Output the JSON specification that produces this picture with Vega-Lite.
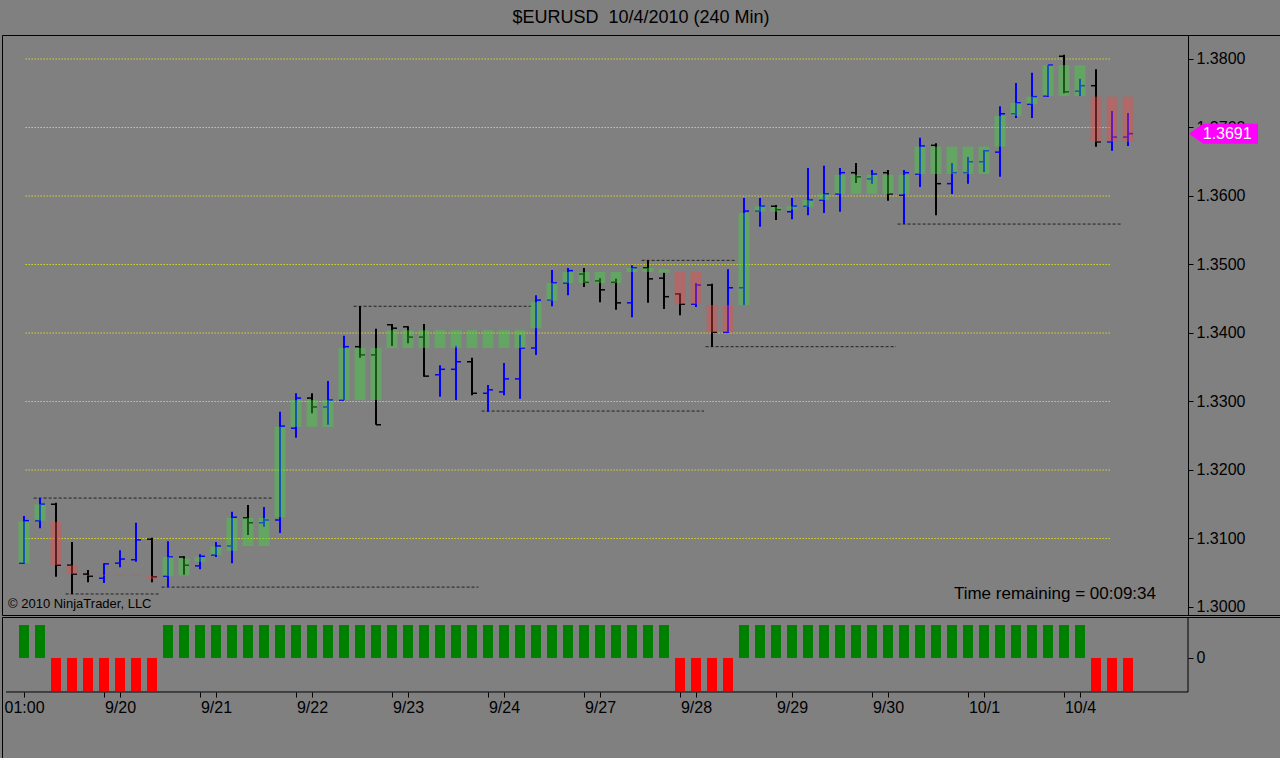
{
  "$schema": "https://vega.github.io/schema/vega-lite/v6.json",
  "background": "#808080",
  "padding": {"left": 1, "top": 8, "right": 1, "bottom": 0},
  "title": {
    "text": "$EURUSD\u00a0 10/4/2010 (240 Min)",
    "fontSize": 18,
    "fontWeight": "normal",
    "font": "Liberation Sans",
    "color": "black",
    "anchor": "middle",
    "offset": 8
  },
  "spacing": 0,
  "datasets": {
    "bars": [
      {"i": 0, "o": 1.3064, "h": 1.3133, "l": 1.3063, "c": 1.3126, "bt": 1.3125, "bb": 1.3064, "t": 1},
      {"i": 1, "o": 1.3126, "h": 1.3159, "l": 1.3115, "c": 1.3150, "bt": 1.3150, "bb": 1.3126, "t": 1},
      {"i": 2, "o": 1.3150, "h": 1.3152, "l": 1.3044, "c": 1.3061, "bt": 1.3124, "bb": 1.3061, "t": -1},
      {"i": 3, "o": 1.3061, "h": 1.3095, "l": 1.3019, "c": 1.3048, "bt": 1.3061, "bb": 1.3048, "t": -1},
      {"i": 4, "o": 1.3048, "h": 1.3054, "l": 1.3036, "c": 1.3045, "bt": 1.3047, "bb": 1.30455, "t": -1},
      {"i": 5, "o": 1.3042, "h": 1.3064, "l": 1.3035, "c": 1.3063, "bt": 1.3047, "bb": 1.30455, "t": -1},
      {"i": 6, "o": 1.3064, "h": 1.3083, "l": 1.3058, "c": 1.3070, "bt": 1.3047, "bb": 1.30455, "t": -1},
      {"i": 7, "o": 1.3069, "h": 1.3123, "l": 1.3066, "c": 1.3098, "bt": 1.3047, "bb": 1.30455, "t": -1},
      {"i": 8, "o": 1.3099, "h": 1.3101, "l": 1.3036, "c": 1.3044, "bt": 1.3045, "bb": 1.3041, "t": -1},
      {"i": 9, "o": 1.3045, "h": 1.3096, "l": 1.3029, "c": 1.3073, "bt": 1.3073, "bb": 1.3045, "t": 1},
      {"i": 10, "o": 1.3073, "h": 1.3074, "l": 1.3047, "c": 1.3061, "bt": 1.3071, "bb": 1.3046, "t": 1},
      {"i": 11, "o": 1.3060, "h": 1.3077, "l": 1.3055, "c": 1.3074, "bt": 1.3073, "bb": 1.3066, "t": 1},
      {"i": 12, "o": 1.3076, "h": 1.3095, "l": 1.3073, "c": 1.3089, "bt": 1.3088, "bb": 1.3076, "t": 1},
      {"i": 13, "o": 1.3089, "h": 1.3139, "l": 1.3064, "c": 1.3131, "bt": 1.3130, "bb": 1.3082, "t": 1},
      {"i": 14, "o": 1.3130, "h": 1.3149, "l": 1.3105, "c": 1.3123, "bt": 1.3130, "bb": 1.3089, "t": 1},
      {"i": 15, "o": 1.3123, "h": 1.3146, "l": 1.3117, "c": 1.3127, "bt": 1.3130, "bb": 1.3089, "t": 1},
      {"i": 16, "o": 1.3127, "h": 1.3285, "l": 1.3108, "c": 1.3264, "bt": 1.3263, "bb": 1.3131, "t": 1},
      {"i": 17, "o": 1.3261, "h": 1.3312, "l": 1.3247, "c": 1.3305, "bt": 1.3302, "bb": 1.3263, "t": 1},
      {"i": 18, "o": 1.3305, "h": 1.3312, "l": 1.3283, "c": 1.3292, "bt": 1.3302, "bb": 1.3263, "t": 1},
      {"i": 19, "o": 1.3292, "h": 1.3330, "l": 1.3266, "c": 1.3302, "bt": 1.3302, "bb": 1.3263, "t": 1},
      {"i": 20, "o": 1.3302, "h": 1.3396, "l": 1.3302, "c": 1.3380, "bt": 1.3378, "bb": 1.3302, "t": 1},
      {"i": 21, "o": 1.3380, "h": 1.3439, "l": 1.3364, "c": 1.3368, "bt": 1.3378, "bb": 1.3302, "t": 1},
      {"i": 22, "o": 1.3368, "h": 1.3406, "l": 1.3266, "c": 1.3266, "bt": 1.3378, "bb": 1.3302, "t": 1},
      {"i": 23, "o": 1.3412, "h": 1.3413, "l": 1.3381, "c": 1.3407, "bt": 1.3404, "bb": 1.3378, "t": 1},
      {"i": 24, "o": 1.3409, "h": 1.3410, "l": 1.3385, "c": 1.3394, "bt": 1.3404, "bb": 1.3378, "t": 1},
      {"i": 25, "o": 1.3394, "h": 1.3413, "l": 1.3336, "c": 1.3337, "bt": 1.3404, "bb": 1.3378, "t": 1},
      {"i": 26, "o": 1.3339, "h": 1.3353, "l": 1.3307, "c": 1.3347, "bt": 1.3404, "bb": 1.3378, "t": 1},
      {"i": 27, "o": 1.3347, "h": 1.3381, "l": 1.3302, "c": 1.3358, "bt": 1.3404, "bb": 1.3378, "t": 1},
      {"i": 28, "o": 1.3358, "h": 1.3364, "l": 1.3309, "c": 1.3312, "bt": 1.3404, "bb": 1.3378, "t": 1},
      {"i": 29, "o": 1.3312, "h": 1.3324, "l": 1.3285, "c": 1.3317, "bt": 1.3404, "bb": 1.3378, "t": 1},
      {"i": 30, "o": 1.3314, "h": 1.3356, "l": 1.3309, "c": 1.3333, "bt": 1.3404, "bb": 1.3378, "t": 1},
      {"i": 31, "o": 1.3333, "h": 1.3397, "l": 1.3304, "c": 1.3378, "bt": 1.3404, "bb": 1.3378, "t": 1},
      {"i": 32, "o": 1.3378, "h": 1.3455, "l": 1.3368, "c": 1.3448, "bt": 1.3445, "bb": 1.3407, "t": 1},
      {"i": 33, "o": 1.3448, "h": 1.3492, "l": 1.3439, "c": 1.3473, "bt": 1.3473, "bb": 1.3447, "t": 1},
      {"i": 34, "o": 1.3473, "h": 1.3495, "l": 1.3455, "c": 1.3491, "bt": 1.3489, "bb": 1.3473, "t": 1},
      {"i": 35, "o": 1.3486, "h": 1.3495, "l": 1.3467, "c": 1.3474, "bt": 1.3489, "bb": 1.3473, "t": 1},
      {"i": 36, "o": 1.3476, "h": 1.3480, "l": 1.3445, "c": 1.3463, "bt": 1.3489, "bb": 1.3473, "t": 1},
      {"i": 37, "o": 1.3474, "h": 1.3479, "l": 1.3434, "c": 1.3444, "bt": 1.3489, "bb": 1.3473, "t": 1},
      {"i": 38, "o": 1.3444, "h": 1.3499, "l": 1.3423, "c": 1.3495, "bt": 1.3495, "bb": 1.3489, "t": 1},
      {"i": 39, "o": 1.3495, "h": 1.3506, "l": 1.3444, "c": 1.3479, "bt": 1.3495, "bb": 1.3489, "t": 1},
      {"i": 40, "o": 1.3480, "h": 1.3488, "l": 1.3435, "c": 1.3453, "bt": 1.3493, "bb": 1.3488, "t": 1},
      {"i": 41, "o": 1.3457, "h": 1.3458, "l": 1.3426, "c": 1.3442, "bt": 1.3489, "bb": 1.3442, "t": -1},
      {"i": 42, "o": 1.3442, "h": 1.3473, "l": 1.3438, "c": 1.3470, "bt": 1.3489, "bb": 1.3442, "t": -1},
      {"i": 43, "o": 1.3470, "h": 1.3472, "l": 1.3380, "c": 1.3401, "bt": 1.3441, "bb": 1.3401, "t": -1},
      {"i": 44, "o": 1.3401, "h": 1.3493, "l": 1.3400, "c": 1.3466, "bt": 1.3441, "bb": 1.3401, "t": -1},
      {"i": 45, "o": 1.3466, "h": 1.3597, "l": 1.3441, "c": 1.3578, "bt": 1.3575, "bb": 1.3441, "t": 1},
      {"i": 46, "o": 1.3578, "h": 1.3597, "l": 1.3555, "c": 1.3585, "bt": 1.3585, "bb": 1.3577, "t": 1},
      {"i": 47, "o": 1.3585, "h": 1.3587, "l": 1.3565, "c": 1.3580, "bt": 1.3584, "bb": 1.3577, "t": 1},
      {"i": 48, "o": 1.3577, "h": 1.3597, "l": 1.3566, "c": 1.3585, "bt": 1.3585, "bb": 1.3580, "t": 1},
      {"i": 49, "o": 1.3585, "h": 1.3641, "l": 1.3572, "c": 1.3594, "bt": 1.3594, "bb": 1.3584, "t": 1},
      {"i": 50, "o": 1.3594, "h": 1.3644, "l": 1.3575, "c": 1.3603, "bt": 1.3603, "bb": 1.3594, "t": 1},
      {"i": 51, "o": 1.3603, "h": 1.3641, "l": 1.3577, "c": 1.3634, "bt": 1.3631, "bb": 1.3603, "t": 1},
      {"i": 52, "o": 1.3634, "h": 1.3648, "l": 1.3619, "c": 1.3628, "bt": 1.3631, "bb": 1.3603, "t": 1},
      {"i": 53, "o": 1.3625, "h": 1.3638, "l": 1.3618, "c": 1.3632, "bt": 1.3631, "bb": 1.3603, "t": 1},
      {"i": 54, "o": 1.3634, "h": 1.3638, "l": 1.3593, "c": 1.3603, "bt": 1.3631, "bb": 1.3603, "t": 1},
      {"i": 55, "o": 1.3601, "h": 1.3638, "l": 1.3559, "c": 1.3634, "bt": 1.3631, "bb": 1.3603, "t": 1},
      {"i": 56, "o": 1.3632, "h": 1.3685, "l": 1.3613, "c": 1.3673, "bt": 1.3672, "bb": 1.3632, "t": 1},
      {"i": 57, "o": 1.3674, "h": 1.3677, "l": 1.3572, "c": 1.3618, "bt": 1.3672, "bb": 1.3632, "t": 1},
      {"i": 58, "o": 1.3618, "h": 1.3648, "l": 1.3603, "c": 1.3634, "bt": 1.3672, "bb": 1.3632, "t": 1},
      {"i": 59, "o": 1.3634, "h": 1.3657, "l": 1.3618, "c": 1.3650, "bt": 1.3672, "bb": 1.3632, "t": 1},
      {"i": 60, "o": 1.3650, "h": 1.3667, "l": 1.3635, "c": 1.3666, "bt": 1.3672, "bb": 1.3632, "t": 1},
      {"i": 61, "o": 1.3664, "h": 1.3731, "l": 1.3628, "c": 1.3720, "bt": 1.3717, "bb": 1.3672, "t": 1},
      {"i": 62, "o": 1.3720, "h": 1.3765, "l": 1.3714, "c": 1.3736, "bt": 1.3736, "bb": 1.3717, "t": 1},
      {"i": 63, "o": 1.3734, "h": 1.3780, "l": 1.3714, "c": 1.3745, "bt": 1.3745, "bb": 1.3734, "t": 1},
      {"i": 64, "o": 1.3746, "h": 1.3791, "l": 1.3745, "c": 1.3791, "bt": 1.3791, "bb": 1.3746, "t": 1},
      {"i": 65, "o": 1.3804, "h": 1.3806, "l": 1.3750, "c": 1.3752, "bt": 1.3791, "bb": 1.3746, "t": 1},
      {"i": 66, "o": 1.3753, "h": 1.3771, "l": 1.3746, "c": 1.3761, "bt": 1.3791, "bb": 1.3746, "t": 1},
      {"i": 67, "o": 1.3761, "h": 1.3785, "l": 1.3672, "c": 1.3679, "bt": 1.3745, "bb": 1.3679, "t": -1},
      {"i": 68, "o": 1.3679, "h": 1.3724, "l": 1.3666, "c": 1.3686, "bt": 1.3745, "bb": 1.3679, "t": -1},
      {"i": 69, "o": 1.3686, "h": 1.3721, "l": 1.3673, "c": 1.3691, "bt": 1.3745, "bb": 1.3679, "t": -1}
    ],
    "levels": [
      {"p": 1.31}, {"p": 1.32}, {"p": 1.33}, {"p": 1.34},
      {"p": 1.35}, {"p": 1.36}, {"p": 1.37}, {"p": 1.38}
    ],
    "sr": [
      {"p": 1.3159, "a": 0.6, "b": 15.5},
      {"p": 1.3019, "a": 2.6, "b": 8.5},
      {"p": 1.3029, "a": 8.6, "b": 28.4},
      {"p": 1.3439, "a": 20.6, "b": 31.7},
      {"p": 1.3286, "a": 28.6, "b": 42.5},
      {"p": 1.3506, "a": 38.6, "b": 44.5},
      {"p": 1.3380, "a": 42.6, "b": 54.5},
      {"p": 1.3559, "a": 54.6, "b": 68.6}
    ],
    "last": [{"price": 1.3691, "label": "1.3691"}]
  },
  "vconcat": [
    {
      "width": 1278,
      "height": 580,
      "layer": [
        {
          "data": {"name": "levels"},
          "mark": {"type": "rule", "color": "#ffff00", "strokeDash": [1, 2], "strokeWidth": 1.2},
          "encoding": {
            "x": {"datum": 0.1, "type": "quantitative", "axis": null,
                  "scale": {"domain": [-1.375, 78.5], "nice": false, "zero": false, "padding": 0}},
            "x2": {"datum": 67.9},
            "y": {"field": "p", "type": "quantitative", "title": null,
                  "scale": {"domain": [1.29883, 1.3835], "nice": false, "zero": false, "padding": 0},
                  "axis": {"orient": "right", "offset": -92, "title": null, "grid": false,
                           "values": [1.3, 1.305, 1.31, 1.315, 1.32, 1.325, 1.33, 1.335, 1.34, 1.345, 1.35, 1.355, 1.36, 1.365, 1.37, 1.375, 1.38],
                           "format": ".4f", "tickSize": 5, "labelFontSize": 16, "labelPadding": 3}}
          }
        },
        {
          "data": {"name": "sr"},
          "mark": {"type": "rule", "color": "#222222", "strokeDash": [3, 2], "strokeWidth": 1},
          "encoding": {
            "x": {"field": "a", "type": "quantitative", "axis": null},
            "x2": {"field": "b"},
            "y": {"field": "p", "type": "quantitative", "title": null}
          }
        },
        {
          "data": {"name": "bars"},
          "mark": {"type": "rule", "strokeWidth": 2},
          "encoding": {
            "x": {"field": "i", "type": "quantitative", "axis": null},
            "y": {"field": "l", "type": "quantitative", "title": null},
            "y2": {"field": "h"},
            "color": {"condition": {"test": "datum.c >= datum.o", "value": "#0000ff"}, "value": "#000000"}
          }
        },
        {
          "data": {"name": "bars"},
          "mark": {"type": "rule", "strokeWidth": 1.5, "xOffset": -5},
          "encoding": {
            "x": {"field": "i", "type": "quantitative", "axis": null},
            "x2": {"field": "i"},
            "y": {"field": "o", "type": "quantitative", "title": null},
            "color": {"condition": {"test": "datum.c >= datum.o", "value": "#0000ff"}, "value": "#000000"}
          }
        },
        {
          "data": {"name": "bars"},
          "mark": {"type": "rule", "strokeWidth": 1.5, "x2Offset": 5},
          "encoding": {
            "x": {"field": "i", "type": "quantitative", "axis": null},
            "x2": {"field": "i"},
            "y": {"field": "c", "type": "quantitative", "title": null},
            "color": {"condition": {"test": "datum.c >= datum.o", "value": "#0000ff"}, "value": "#000000"}
          }
        },
        {
          "data": {"name": "bars"},
          "mark": {"type": "bar", "size": 11, "opacity": 0.4},
          "encoding": {
            "x": {"field": "i", "type": "quantitative", "axis": null},
            "y": {"field": "bt", "type": "quantitative", "title": null},
            "y2": {"field": "bb"},
            "color": {"condition": {"test": "datum.t > 0", "value": "#3adc3a"}, "value": "#f54646"}
          }
        },
        {
          "data": {"values": [{"note": "© 2010 NinjaTrader, LLC"}]},
          "mark": {"type": "text", "align": "left", "baseline": "middle", "fontSize": 13, "color": "#000000"},
          "encoding": {
            "x": {"datum": -1.0, "type": "quantitative", "axis": null},
            "y": {"datum": 1.30044, "type": "quantitative", "title": null},
            "text": {"field": "note"}
          }
        },
        {
          "data": {"values": [{"note": "Time remaining = 00:09:34"}]},
          "mark": {"type": "text", "align": "right", "baseline": "middle", "fontSize": 17, "color": "#000000"},
          "encoding": {
            "x": {"datum": 70.75, "type": "quantitative", "axis": null},
            "y": {"datum": 1.3019, "type": "quantitative", "title": null},
            "text": {"field": "note"}
          }
        },
        {
          "data": {"name": "last"},
          "mark": {"type": "point", "filled": true, "opacity": 1, "color": "#ff00ff", "size": 4761,
                   "shape": "M-1,0L-0.59,-0.29L1,-0.29L1,0.29L-0.59,0.29Z"},
          "encoding": {
            "x": {"datum": 74.97, "type": "quantitative", "axis": null},
            "y": {"field": "price", "type": "quantitative", "title": null}
          }
        },
        {
          "data": {"name": "last"},
          "mark": {"type": "text", "align": "center", "baseline": "middle", "fontSize": 16, "color": "#ffffff"},
          "encoding": {
            "x": {"datum": 75.2, "type": "quantitative", "axis": null},
            "y": {"field": "price", "type": "quantitative", "title": null},
            "text": {"field": "label"}
          }
        }
      ]
    },
    {
      "width": 1278,
      "height": 142,
      "layer": [
        {
          "data": {"name": "bars"},
          "mark": {"type": "bar", "size": 10},
          "encoding": {
            "x": {"field": "i", "type": "quantitative", "title": null,
                  "scale": {"domain": [-1.375, 78.5], "nice": false, "zero": false, "padding": 0},
                  "axis": {"orient": "bottom", "offset": -67, "title": null, "grid": false, "domain": false,
                           "values": [0, 5, 6, 11, 12, 17, 18, 23, 24, 29, 30, 35, 36, 41, 42, 47, 48, 53, 54, 59, 60, 65, 66],
                           "labelExpr": "datum.value % 6 == 0 ? ['01:00','9/20','9/21','9/22','9/23','9/24','9/27','9/28','9/29','9/30','10/1','10/4'][datum.value / 6] : ''",
                           "tickSize": 5, "labelFontSize": 16, "labelPadding": 2,
                           "labelOverlap": false, "labelFlush": false}},
            "y": {"field": "t", "type": "quantitative", "title": null,
                  "scale": {"domain": [-3.0606, 1.2424], "nice": false, "zero": false, "padding": 0},
                  "axis": {"orient": "right", "offset": -92, "title": null, "grid": false, "domain": false,
                           "values": [0], "format": "d", "tickSize": 5, "labelFontSize": 16, "labelPadding": 3}},
            "y2": {"datum": 0},
            "color": {"condition": {"test": "datum.t > 0", "value": "#008000"}, "value": "#ff0000"}
          }
        },
        {
          "data": {"values": [{"edge": "bottom"}]},
          "mark": {"type": "rule", "color": "#000000", "strokeWidth": 1},
          "encoding": {
            "x": {"datum": -1.125, "type": "quantitative", "title": null},
            "x2": {"datum": 72.75},
            "y": {"datum": -1.03, "type": "quantitative", "title": null}
          }
        },
        {
          "data": {"values": [{"edge": "right"}]},
          "mark": {"type": "rule", "color": "#000000", "strokeWidth": 1},
          "encoding": {
            "x": {"datum": 72.75, "type": "quantitative", "title": null},
            "y": {"datum": -1.03, "type": "quantitative", "title": null},
            "y2": {"datum": 1.2424}
          }
        }
      ]
    }
  ],
  "config": {
    "font": "Liberation Sans",
    "view": {"stroke": "#000000", "strokeWidth": 1},
    "axis": {
      "domainColor": "#000000",
      "tickColor": "#000000",
      "labelColor": "#000000",
      "labelFont": "Liberation Sans",
      "domainWidth": 1,
      "tickWidth": 1
    }
  }
}
